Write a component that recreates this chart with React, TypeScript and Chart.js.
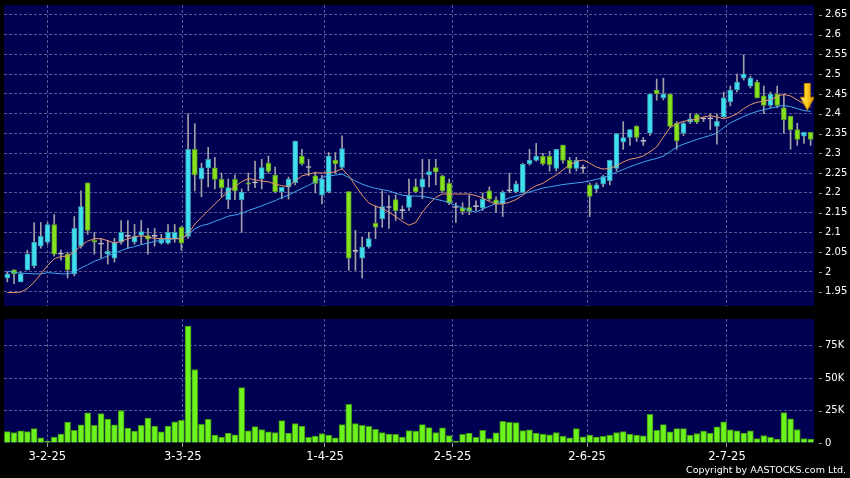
import React, { useEffect, useRef } from 'react';
import { Chart, registerables } from 'chart.js';

Chart.register(...registerables);

// ---- data (index = trading day, left to right) ----
const OPEN = [
  1.985, 2.005, 1.975, 2.005, 2.015, 2.065, 2.075, 2.12, 2.045, 2.045,
  1.995, 2.065, 2.225, 2.08, 2.07, 2.045, 2.035, 2.075, 2.09, 2.075,
  2.093, 2.092, 2.09, 2.073, 2.073, 2.083, 2.113, 2.09, 2.31, 2.235,
  2.263, 2.263, 2.234, 2.183, 2.234, 2.183, 2.225, 2.225, 2.235, 2.275,
  2.245, 2.203, 2.214, 2.226, 2.293, 2.264, 2.243, 2.194, 2.203, 2.283,
  2.264, 2.203, 2.052, 2.035, 2.063, 2.123, 2.134, 2.163, 2.183, 2.155,
  2.163, 2.215, 2.214, 2.245, 2.264, 2.243, 2.224, 2.163, 2.163, 2.163,
  2.165, 2.162, 2.205, 2.182, 2.172, 2.205, 2.202, 2.201, 2.273, 2.282,
  2.292, 2.292, 2.262, 2.321, 2.282, 2.262, 2.262, 2.22, 2.21, 2.222,
  2.231, 2.262, 2.329, 2.34, 2.368, 2.33, 2.351, 2.46, 2.44, 2.45,
  2.376, 2.351, 2.379, 2.398, 2.387, 2.387, 2.368, 2.392, 2.43, 2.46,
  2.49, 2.47, 2.48, 2.445, 2.421, 2.45, 2.415, 2.394, 2.36, 2.343,
  2.353,
];
const HIGH = [
  2.0, 2.005, 2.0, 2.055, 2.125, 2.125, 2.125, 2.145, 2.055, 2.05,
  2.14, 2.205, 2.225, 2.1, 2.085, 2.08, 2.085, 2.13, 2.13, 2.12,
  2.13, 2.11, 2.11, 2.095, 2.12, 2.12, 2.115, 2.4, 2.375, 2.275,
  2.315, 2.29, 2.25, 2.235, 2.245, 2.21, 2.25, 2.28, 2.285, 2.293,
  2.265, 2.214, 2.24, 2.331, 2.31, 2.285, 2.252, 2.244, 2.302, 2.302,
  2.344, 2.203, 2.105, 2.088, 2.1, 2.167, 2.205, 2.193, 2.195, 2.167,
  2.235, 2.235, 2.285, 2.285, 2.285, 2.245, 2.235, 2.175, 2.175, 2.195,
  2.18, 2.2, 2.215, 2.19, 2.205, 2.25, 2.23, 2.275, 2.31, 2.325,
  2.3, 2.305, 2.31, 2.321, 2.29, 2.29, 2.27, 2.225, 2.225, 2.245,
  2.283, 2.35, 2.38, 2.36, 2.37, 2.34, 2.45, 2.488, 2.49, 2.45,
  2.38, 2.38, 2.4, 2.4, 2.39, 2.4, 2.4, 2.455, 2.47, 2.5,
  2.549, 2.495, 2.485, 2.47, 2.455, 2.47, 2.45, 2.394, 2.376, 2.353,
  2.353,
];
const LOW = [
  1.975, 1.97, 1.975, 2.005, 2.01, 2.06, 2.07, 2.04, 2.03, 1.985,
  1.99, 2.06, 2.095, 2.045, 2.035, 2.02, 2.025, 2.07, 2.06, 2.07,
  2.07, 2.045, 2.065, 2.07, 2.07, 2.075, 2.055, 2.085, 2.205, 2.19,
  2.215, 2.21, 2.19, 2.16, 2.183, 2.1, 2.205, 2.213, 2.21, 2.25,
  2.2, 2.185, 2.184, 2.22, 2.27, 2.243, 2.2, 2.172, 2.2, 2.25,
  2.26, 2.004, 2.004, 1.985, 2.06, 2.084, 2.113, 2.11, 2.13, 2.134,
  2.155, 2.2, 2.185, 2.215, 2.22, 2.2, 2.17, 2.125, 2.145, 2.145,
  2.155, 2.155, 2.18, 2.15, 2.14, 2.2, 2.2, 2.2, 2.27, 2.28,
  2.27, 2.255, 2.255, 2.275, 2.25, 2.255, 2.25, 2.14, 2.2, 2.215,
  2.22, 2.255, 2.31, 2.32, 2.33, 2.32, 2.345, 2.434, 2.435, 2.365,
  2.31, 2.345, 2.375, 2.375, 2.38, 2.36, 2.323, 2.39, 2.42, 2.455,
  2.485, 2.465, 2.44, 2.4, 2.415, 2.415, 2.35, 2.31, 2.32, 2.325,
  2.32,
];
const CLOSE = [
  1.995, 1.995, 1.995, 2.045, 2.075, 2.09, 2.12, 2.045, 2.045, 2.005,
  2.11, 2.165, 2.105, 2.075, 2.07, 2.052, 2.075, 2.1, 2.09, 2.09,
  2.102, 2.083, 2.09, 2.083, 2.1, 2.1, 2.073, 2.31, 2.245, 2.263,
  2.285, 2.234, 2.213, 2.213, 2.205, 2.202, 2.222, 2.225, 2.264, 2.254,
  2.203, 2.214, 2.235, 2.331, 2.274, 2.264, 2.224, 2.235, 2.293, 2.274,
  2.312, 2.035, 2.052, 2.063, 2.084, 2.113, 2.165, 2.163, 2.155, 2.155,
  2.193, 2.203, 2.235, 2.254, 2.253, 2.205, 2.174, 2.163, 2.153, 2.153,
  2.165, 2.184, 2.184, 2.172, 2.201, 2.205, 2.223, 2.272, 2.283, 2.292,
  2.273, 2.271, 2.31, 2.282, 2.262, 2.282, 2.262, 2.191, 2.22, 2.241,
  2.282, 2.35, 2.34, 2.36, 2.34, 2.33, 2.45, 2.45, 2.45, 2.368,
  2.331, 2.376, 2.387, 2.379, 2.387, 2.387, 2.381, 2.44, 2.46, 2.48,
  2.5, 2.49, 2.44, 2.421, 2.45, 2.421, 2.385, 2.36, 2.335, 2.353,
  2.335,
];
const VOLUME = [
  8800, 8100, 9300, 8800, 11100, 4000, 1300, 4500, 6800, 16200,
  9800, 13900, 23200, 13600, 22700, 18400, 13900, 25000, 11400, 9100,
  13600, 19200, 13100, 8600, 13100, 16400, 17400, 90000, 56600, 14400,
  18200, 6100, 4500, 7600, 6300, 42700, 9300, 12600, 10400, 8600,
  8100, 17200, 7600, 14900, 13100, 4300, 5300, 7300, 6100, 4000,
  14100, 29800, 14900, 13600, 12900, 10600, 8100, 6800, 6600, 4500,
  9600, 9100, 14200, 11900, 8100, 11600, 5800, 1500, 6600, 7600,
  4300, 9800, 3500, 7800, 16700, 15900, 15700, 9600, 10100, 7600,
  6800, 6300, 8100, 5300, 4000, 11100, 4800, 6100, 4500, 5100,
  6100, 8100, 8800, 6800, 6100, 5600, 22000, 9800, 14100, 8600,
  11100, 11100, 6100, 7300, 9100, 7600, 12400, 16400, 10100, 9300,
  7600, 9300, 3500, 5800, 4300, 3000, 23500, 18700, 10400, 3500,
  3000,
];
const MA_SHORT = [
  1.948, 1.948, 1.949, 1.958, 1.974, 1.995, 2.016, 2.033, 2.039, 2.04,
  2.05, 2.067, 2.078, 2.084, 2.084, 2.079, 2.073, 2.077, 2.084, 2.088,
  2.092, 2.088, 2.085, 2.084, 2.084, 2.084, 2.084, 2.096, 2.121, 2.138,
  2.155, 2.172, 2.188, 2.203, 2.216, 2.228, 2.236, 2.233, 2.23, 2.228,
  2.222, 2.218, 2.216, 2.23, 2.243, 2.247, 2.251, 2.25, 2.251, 2.253,
  2.261, 2.243, 2.218, 2.194, 2.174, 2.166, 2.161, 2.151, 2.14, 2.128,
  2.118, 2.125, 2.151, 2.172, 2.189, 2.197, 2.197, 2.197, 2.197, 2.197,
  2.193, 2.187, 2.178, 2.172, 2.172, 2.176, 2.183, 2.194, 2.208, 2.218,
  2.224, 2.235, 2.245, 2.258, 2.271, 2.279, 2.283, 2.275, 2.265, 2.26,
  2.262, 2.268, 2.278, 2.285, 2.288, 2.293, 2.304, 2.316, 2.341, 2.365,
  2.375, 2.381, 2.383, 2.387, 2.392, 2.395, 2.392, 2.387, 2.392, 2.4,
  2.413, 2.423, 2.429, 2.432, 2.435, 2.444, 2.449, 2.445, 2.435, 2.425,
  2.417,
];
const MA_LONG = [
  2.002, 1.999, 1.997, 1.996, 1.995, 1.995, 1.998, 1.997, 1.995, 1.995,
  1.999, 2.01, 2.018, 2.027, 2.033, 2.041, 2.047, 2.054, 2.06, 2.064,
  2.069, 2.073, 2.077, 2.08, 2.082, 2.084, 2.085, 2.094, 2.109, 2.117,
  2.121, 2.128, 2.134, 2.141, 2.144, 2.148, 2.155, 2.161, 2.167, 2.174,
  2.18, 2.188, 2.194, 2.203, 2.211, 2.219, 2.228, 2.239, 2.243, 2.245,
  2.247, 2.239, 2.23, 2.222, 2.216, 2.211, 2.208, 2.205, 2.199, 2.194,
  2.192, 2.192, 2.191, 2.188, 2.184, 2.18, 2.176, 2.168, 2.162, 2.156,
  2.151, 2.159, 2.166, 2.173, 2.181, 2.187, 2.192, 2.197, 2.202, 2.207,
  2.212, 2.215, 2.218, 2.221, 2.223, 2.225, 2.227, 2.23, 2.234, 2.238,
  2.245, 2.252, 2.259, 2.266, 2.272, 2.278, 2.283, 2.287, 2.293, 2.304,
  2.316, 2.323, 2.329, 2.335, 2.34, 2.345, 2.351, 2.365, 2.377, 2.385,
  2.393, 2.4, 2.406, 2.41, 2.414, 2.418, 2.421, 2.418, 2.413, 2.408,
  2.406,
];
const X_TICK_POS = [5.97, 26.2, 47.45, 66.5, 86.6, 107.5];
const X_TICK_LABELS = ['3-2-25', '3-3-25', '1-4-25', '2-5-25', '2-6-25', '2-7-25'];
const PRICE_TICKS = [1.95, 2.0, 2.05, 2.1, 2.15, 2.2, 2.25, 2.3, 2.35, 2.4, 2.45, 2.5, 2.55, 2.6, 2.65];
const PRICE_TICK_LABELS = ['1.95', '2', '2.05', '2.1', '2.15', '2.2', '2.25', '2.3', '2.35', '2.4', '2.45', '2.5', '2.55', '2.6', '2.65'];
const VOL_TICKS = [0, 25000, 50000, 75000];
const VOL_TICK_LABELS = ['0', '25K', '50K', '75K'];
const SIGNAL = [{ x: 119.5, y: 2.443 }];

// ---- styles ----
const NAVY = '#000052';
const GRID = '#585890';
const CYAN = '#3ee0f0';
const CYAN_EDGE = '#3a9fb4';
const GREEN = '#86e21e';
const GREEN_EDGE = '#5c9a24';
const DOJI = '#c8c8d0';
const WICK = '#a0a0a8';
const ORANGE = '#e8956b';
const BLUE = '#40a8ee';
const VOL_FILL = '#6cf21c';
const VOL_EDGE = '#3f9114';
const FONT = 'DejaVu Sans';

const X_MIN = -0.5;
const X_MAX = OPEN.length - 0.5;

const panelBg = {
  id: 'panelBg',
  beforeDraw(chart: any) {
    const { ctx, chartArea: a } = chart;
    ctx.save();
    ctx.fillStyle = NAVY;
    ctx.fillRect(a.left, a.top, a.right - a.left, a.bottom - a.top);
    ctx.restore();
  },
};

const tickDash = {
  id: 'tickDash',
  afterDraw(chart: any) {
    const s = chart.scales.y;
    const ctx = chart.ctx;
    ctx.save();
    ctx.strokeStyle = '#9a9a9a';
    ctx.lineWidth = 1;
    s.ticks.forEach((t: any) => {
      const y = Math.round(s.getPixelForValue(t.value)) + 0.5;
      ctx.beginPath();
      ctx.moveTo(s.left + 5, y);
      ctx.lineTo(s.left + 8, y);
      ctx.stroke();
    });
    ctx.restore();
  },
};

function makeArrow(): HTMLCanvasElement {
  const c = document.createElement('canvas');
  c.width = 15;
  c.height = 28;
  const g = c.getContext('2d') as CanvasRenderingContext2D;
  const grad = g.createLinearGradient(0, 0, 15, 0);
  grad.addColorStop(0, '#ffe98a');
  grad.addColorStop(0.45, '#ffd21e');
  grad.addColorStop(1, '#d88a00');
  g.fillStyle = grad;
  g.strokeStyle = '#b87a00';
  g.lineWidth = 1;
  g.beginPath();
  g.moveTo(4.5, 0.5);
  g.lineTo(10.5, 0.5);
  g.lineTo(10.5, 14.5);
  g.lineTo(14.5, 14.5);
  g.lineTo(7.5, 27.5);
  g.lineTo(0.5, 14.5);
  g.lineTo(4.5, 14.5);
  g.closePath();
  g.fill();
  g.stroke();
  return c;
}

function xScale(showLabels: boolean) {
  return {
    type: 'linear' as const,
    min: X_MIN,
    max: X_MAX,
    offset: false,
    afterBuildTicks: (s: any) => {
      s.ticks = X_TICK_POS.map((v) => ({ value: v }));
    },
    afterFit: (s: any) => {
      s.height = showLabels ? 35 : 0;
      s.paddingLeft = 0;
      s.paddingRight = 0;
    },
    ticks: {
      display: showLabels,
      autoSkip: false,
      maxRotation: 0,
      color: '#ffffff',
      padding: 3,
      font: { family: FONT, size: 11.5 },
      callback: (_v: any, i: number) => X_TICK_LABELS[i],
    },
    grid: {
      offset: false,
      color: GRID,
      lineWidth: 1,
      drawTicks: showLabels,
      tickLength: 4,
      tickColor: '#9a9a9a',
    },
    border: { display: false, dash: [3, 2] },
  };
}

function yFit(s: any) {
  s.width = 36;
  s.paddingTop = 0;
  s.paddingBottom = 0;
}

export default function App() {
  const priceRef = useRef<HTMLCanvasElement>(null);
  const volRef = useRef<HTMLCanvasElement>(null);

  useEffect(() => {
    document.body.style.margin = '0';
    document.body.style.background = '#000';
    Chart.defaults.font.family = FONT;

    const idx = OPEN.map((_, i) => i);
    const bodyFill = idx.map((i) => (CLOSE[i] > OPEN[i] ? CYAN : CLOSE[i] < OPEN[i] ? GREEN : DOJI));
    const bodyEdge = idx.map((i) => (CLOSE[i] > OPEN[i] ? CYAN_EDGE : CLOSE[i] < OPEN[i] ? GREEN_EDGE : DOJI));

    const price = new Chart(priceRef.current as HTMLCanvasElement, {
      type: 'bar',
      data: {
        datasets: [
          {
            type: 'line',
            label: 'MA short',
            data: idx.map((i) => ({ x: i, y: MA_SHORT[i] })),
            borderColor: ORANGE,
            borderWidth: 1,
            pointRadius: 0,
            tension: 0,
            order: 1,
          } as any,
          {
            type: 'line',
            label: 'MA long',
            data: idx.map((i) => ({ x: i, y: MA_LONG[i] })),
            borderColor: BLUE,
            borderWidth: 1,
            pointRadius: 0,
            tension: 0,
            order: 2,
          } as any,
          {
            type: 'bar',
            label: 'wick',
            data: idx.map((i) => ({ x: i, y: [LOW[i], HIGH[i]] })),
            backgroundColor: WICK,
            barThickness: 1,
            grouped: false,
            order: 4,
          } as any,
          {
            type: 'bar',
            label: 'body',
            data: idx.map((i) => ({ x: i, y: [OPEN[i], CLOSE[i]] })),
            backgroundColor: bodyFill,
            borderColor: bodyEdge,
            borderWidth: 1,
            borderSkipped: false,
            barThickness: 5,
            minBarLength: 1,
            grouped: false,
            order: 3,
          } as any,
          {
            type: 'line',
            label: 'signal',
            data: SIGNAL,
            showLine: false,
            pointStyle: makeArrow(),
            pointRadius: 10,
            order: 0,
          } as any,
        ],
      },
      options: {
        animation: false,
        responsive: false,
        maintainAspectRatio: false,
        devicePixelRatio: 1,
        layout: { autoPadding: false, padding: { left: 4, top: 5, right: 0, bottom: 6 } },
        plugins: { legend: { display: false }, tooltip: { enabled: false } },
        scales: {
          x: xScale(false) as any,
          y: {
            type: 'linear',
            position: 'right',
            min: 1.9138,
            max: 2.675,
            afterBuildTicks: (s: any) => {
              s.ticks = PRICE_TICKS.map((v) => ({ value: v }));
            },
            afterFit: yFit,
            ticks: {
              autoSkip: false,
              color: '#ffffff',
              padding: 11,
              font: { family: FONT, size: 10 },
              callback: (_v: any, i: number) => PRICE_TICK_LABELS[i],
            },
            grid: { color: GRID, lineWidth: 1, drawTicks: false },
            border: { display: false, dash: [3, 2] },
          } as any,
        },
      },
      plugins: [panelBg, tickDash],
    });

    const vol = new Chart(volRef.current as HTMLCanvasElement, {
      type: 'bar',
      data: {
        datasets: [
          {
            label: 'volume',
            data: idx.map((i) => ({ x: i, y: VOLUME[i] })),
            backgroundColor: VOL_FILL,
            borderColor: VOL_EDGE,
            borderWidth: 1,
            borderSkipped: 'start',
            barThickness: 6,
            grouped: false,
          } as any,
        ],
      },
      options: {
        animation: false,
        responsive: false,
        maintainAspectRatio: false,
        devicePixelRatio: 1,
        layout: { autoPadding: false, padding: { left: 4, top: 7, right: 0, bottom: 0 } },
        plugins: { legend: { display: false }, tooltip: { enabled: false } },
        scales: {
          x: xScale(true) as any,
          y: {
            type: 'linear',
            position: 'right',
            min: 0,
            max: 95500,
            afterBuildTicks: (s: any) => {
              s.ticks = VOL_TICKS.map((v) => ({ value: v }));
            },
            afterFit: yFit,
            ticks: {
              autoSkip: false,
              color: '#ffffff',
              padding: 11,
              font: { family: FONT, size: 10 },
              callback: (_v: any, i: number) => VOL_TICK_LABELS[i],
            },
            grid: {
              color: (c: any) => (c.tick && c.tick.value === 0 ? 'rgba(0,0,0,0)' : GRID),
              lineWidth: 1,
              drawTicks: false,
            },
            border: { display: false, dash: [3, 2] },
          } as any,
        },
      },
      plugins: [panelBg, tickDash],
    });

    return () => {
      price.destroy();
      vol.destroy();
    };
  }, []);

  return (
    <div style={{ position: 'relative', width: 850, height: 478, background: '#000', overflow: 'hidden' }}>
      <canvas ref={priceRef} width={850} height={312} style={{ position: 'absolute', left: 0, top: 0 }} />
      <canvas ref={volRef} width={850} height={166} style={{ position: 'absolute', left: 0, top: 312 }} />
      <div
        style={{
          position: 'absolute',
          right: 4,
          top: 464,
          color: '#ffffff',
          font: `9.5px "${FONT}"`,
          whiteSpace: 'nowrap',
          lineHeight: '12px',
        }}
      >
        Copyright by AASTOCKS.com Ltd.
      </div>
    </div>
  );
}
